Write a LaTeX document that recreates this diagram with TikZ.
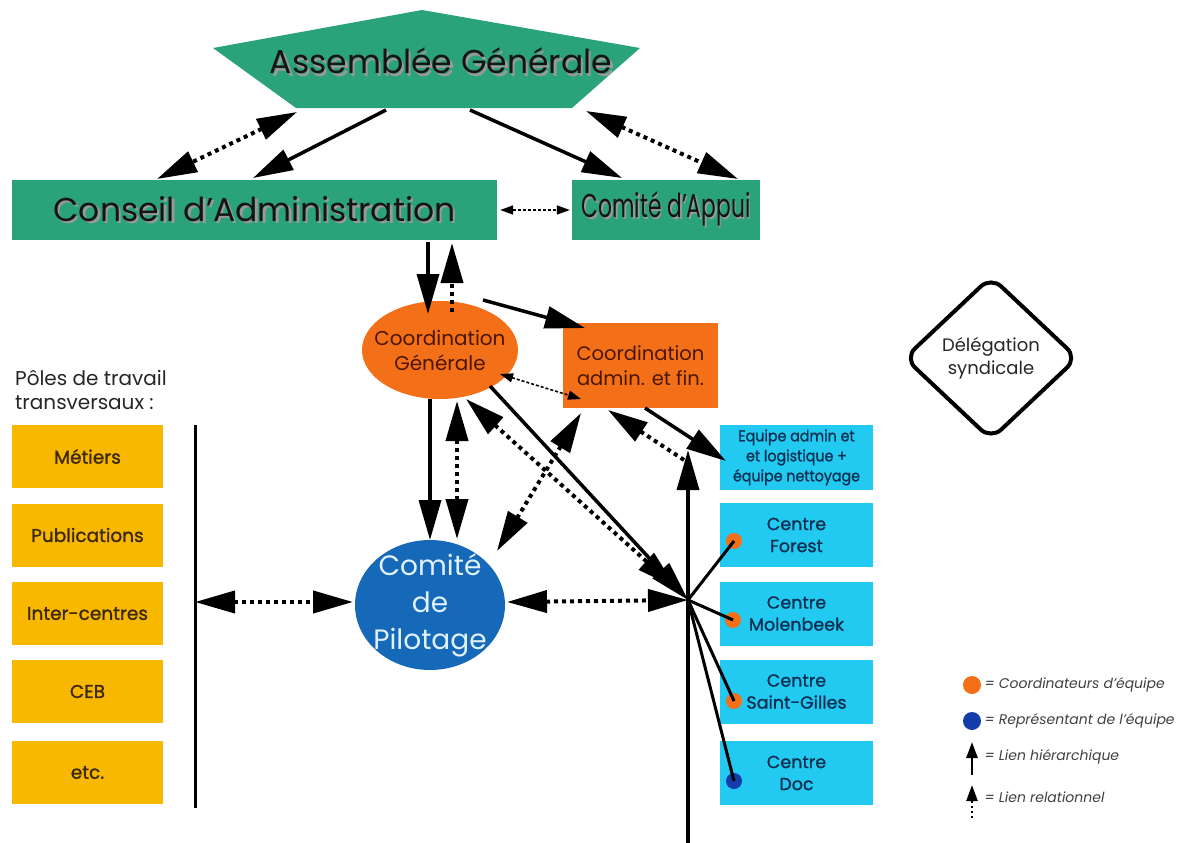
\documentclass[tikz,border=0pt]{standalone}
\usepackage{fontspec}
\setmainfont{Poppins}
\newfontfamily\semib{Poppins}[FakeBold=1.2]
\usetikzlibrary{arrows.meta,shapes.geometric,calc}
\definecolor{agreen}{RGB}{42,163,122}
\definecolor{orng}{RGB}{244,112,24}
\definecolor{cpblue}{RGB}{22,104,184}
\definecolor{cptext}{RGB}{225,242,255}
\definecolor{gold}{RGB}{248,184,0}
\definecolor{cyanbox}{RGB}{34,202,242}
\definecolor{navy}{RGB}{14,48,80}
\definecolor{brownt}{RGB}{60,40,10}
\definecolor{redt}{RGB}{75,22,0}
\definecolor{dotblue}{RGB}{20,60,170}
\newcommand{\shtx}[1]{\leavevmode\rlap{\kern2.5pt\raisebox{-2.5pt}{\color{black!40}#1}}{\color{black!92}#1}}
\tikzset{
  hier/.style={line width=3.5pt,-{Triangle[length=40pt,width=22pt]}},
  relboth/.style={line width=4pt,dash pattern=on 4pt off 4pt,
     {Triangle[length=40pt,width=22pt]}-{Triangle[length=40pt,width=22pt]}},
  relone/.style={line width=4pt,dash pattern=on 4pt off 4pt,-{Triangle[length=40pt,width=22pt]}},
  thinrel/.style={line width=1.6pt,dash pattern=on 3pt off 2pt,
     {Triangle[length=13pt,width=9pt]}-{Triangle[length=13pt,width=9pt]}},
  gbox/.style={rectangle,fill=agreen,inner sep=0pt,font=\fontsize{33}{38}\selectfont},
  pole/.style={rectangle,fill=gold,minimum width=151pt,minimum height=63pt,inner sep=0pt,
     text=brownt,font=\fontsize{18.5}{22}\semib},
  team/.style={rectangle,fill=cyanbox,minimum width=153pt,minimum height=64pt,inner sep=0pt,
     text=navy,align=center,font=\fontsize{17.5}{22}\semib},
  spoke/.style={line width=3pt},
  cdot/.style={circle,fill=orng,minimum size=16pt,inner sep=0pt},
  legtext/.style={anchor=west,text=black!75,font=\fontsize{14}{16}\selectfont\itshape},
}
\begin{document}
\begin{tikzpicture}[x=1pt,y=-1pt]
\useasboundingbox[fill=white] (0,0) rectangle (1186,843);

% Assemblee Generale
\fill[agreen] (213,48) -- (422,10) -- (640,48) -- (572,108) -- (296,108) -- cycle;
\node[font=\fontsize{33}{38}\selectfont] (ag) at (441,62) {\shtx{Assemblée Générale}};

% green boxes
\node[gbox,minimum width=485pt,minimum height=60pt] (ca) at (254.5,210) {\shtx{Conseil d'Administration}};
\node[gbox,minimum width=188pt,minimum height=60pt] (cap) at (666,210) {\scalebox{0.66}[1]{\shtx{Comité d'Appui}}};

% coordination
\node[ellipse,fill=orng,minimum width=156pt,minimum height=98pt,inner sep=0pt] (cg) at (440,350) {};
\node[align=center,text=redt,inner sep=0pt,font=\fontsize{20}{25}\selectfont] (cgtext) at (cg.center) {Coordination\\Générale};
\node[rectangle,fill=orng,minimum width=155pt,minimum height=85pt,inner sep=0pt,text=redt,
  align=center,font=\fontsize{19.5}{25}\selectfont] (caf) at (640.5,365.5) {Coordination\\admin. et fin.};

% comite de pilotage
\node[ellipse,fill=cpblue,minimum width=150pt,minimum height=130pt,inner sep=0pt] (cp) at (430,605) {};
\node[align=center,text=cptext,inner sep=0pt,font=\fontsize{28}{37}\selectfont] (cptext) at (cp.center) {Comité\\de\\Pilotage};

% delegation
\node[diamond,draw=black,line width=4pt,rounded corners=14pt,minimum width=174pt,minimum height=164pt,
  inner sep=0pt,align=center,text=black!85,font=\fontsize{18}{23}\selectfont] (del) at (991,358) {Délégation\\syndicale};

% poles
\node[anchor=north west,align=left,inner sep=0pt,text=black!85,font=\fontsize{20}{24}\selectfont]
  (poleshead) at (15,370) {Pôles de travail\\transversaux :};
\node[pole] (p1) at (87.5,456.5) {Métiers};
\node[pole] (p2) at (87.5,535) {Publications};
\node[pole] (p3) at (87.5,613.5) {Inter-centres};
\node[pole] (p4) at (87.5,691.5) {CEB};
\node[pole] (p5) at (87.5,772.5) {etc.};
\coordinate (plt) at (195,425);
\coordinate (plb) at (195,808);
\draw[line width=3pt] (plt) -- (plb);
\coordinate (plm) at (195,602);

% teams
\node[team,minimum height=65pt,font=\fontsize{15.5}{20}\semib] (eq) at (796.5,457.5) {\scalebox{0.92}[1]{Equipe admin et}\\\scalebox{0.92}[1]{et logistique +}\\\scalebox{0.92}[1]{équipe nettoyage}};
\node[team] (t1) at (796.5,535) {Centre\\Forest};
\node[team] (t2) at (796.5,613.5) {Centre\\Molenbeek};
\node[team] (t3) at (796.5,691.5) {Centre\\Saint-Gilles};
\node[team] (t4) at (796.5,773) {Centre\\Doc};

% junction and spokes
\coordinate (jn) at (688,600);
\coordinate (vtop) at (688,450);
\coordinate (vbot) at (688,843);
\node[cdot] (d1) at (734,541) {};
\node[cdot] (d2) at (733,620) {};
\node[cdot] (d3) at (734,701) {};
\node[cdot,fill=dotblue] (d4) at (734,781) {};
\draw[spoke] (jn) -- (d1.center);
\draw[spoke] (jn) -- (d2.center);
\draw[spoke] (jn) -- (d3.center);
\draw[spoke] (jn) -- (d4.center);
\draw[hier] (vbot) -- (vtop);

% AG connectors
\coordinate (agbl) at (297,112);
\coordinate (agl) at (386,110);
\coordinate (agr) at (470,110);
\coordinate (agbr) at (586,111);
\coordinate (cal) at (157,179);
\coordinate (cam) at (253,178);
\coordinate (capl) at (622,178);
\coordinate (capr) at (738,179);
\draw[relboth] (agbl) -- (cal);
\draw[hier] (agl) -- (cam);
\draw[hier] (agr) -- (capl);
\draw[relboth] (agbr) -- (capr);
\draw[thinrel] (ca.east) ++(3,0) coordinate (cae) -- ($(cap.west)+(-2,0)$) coordinate (capw);

% Conseil <-> CG
\coordinate (cab1) at (428,242);
\coordinate (cgt1) at (428,314);
\coordinate (cgt2) at (452,312);
\coordinate (cab2) at (452,243);
\draw[hier] (cab1) -- (cgt1);
\draw[relone] (cgt2) -- (cab2);

% CG <-> CAF
\coordinate (cg1) at (483,300);
\coordinate (caf1) at (585,328);
\draw[hier] (cg1) -- (caf1);
\coordinate (cg2) at (500,374);
\coordinate (caf2) at (581,399);
\draw[thinrel] (cg2) -- (caf2);

% CG -> CP
\coordinate (cg3) at (430,399);
\coordinate (cp1) at (430,540);
\draw[hier] (cg3) -- (cp1);
\coordinate (cg4) at (457,401);
\coordinate (cp2) at (457,539);
\draw[relboth] (cg4) -- (cp2);

% CAF <-> CP
\coordinate (caf3) at (581,413);
\coordinate (cp3) at (497,551);
\draw[relboth] (caf3) -- (cp3);

% CG -> junction
\coordinate (cg5) at (466,399);
\coordinate (jn2) at (676,588);
\draw[relboth] (cg5) -- (jn2);
\coordinate (cg6) at (490,386);
\draw[hier] (cg6) -- (jn);

% CAF -> equipe / vertical line
\coordinate (caf4) at (645,408);
\coordinate (eqw) at (726,461);
\draw[hier] (caf4) -- (eqw);
\coordinate (vt2) at (684,460);
\coordinate (caf5) at (608,410);
\draw[relone] (vt2) -- (caf5);

% CP horizontal
\coordinate (cpw) at (353,602);
\coordinate (cpe) at (507,602);
\draw[relboth] (plm) -- (cpw);
\draw[relboth] (cpe) -- (jn);

% legend
\node[cdot,minimum size=18pt] (lg1) at (972,685) {};
\node[legtext] (lt1) at (981,685) {= Coordinateurs d'équipe};
\node[cdot,minimum size=18pt,fill=dotblue] (lg2) at (972,721) {};
\node[legtext] (lt2) at (981,721) {= Représentant de l'équipe};
\coordinate (la1) at (972,775);
\coordinate (la2) at (972,742);
\draw[line width=2.5pt,-{Triangle[length=16pt,width=11pt]}] (la1) -- (la2);
\node[legtext] (lt3) at (981,757) {= Lien hiérarchique};
\coordinate (lb1) at (972,818);
\coordinate (lb2) at (972,785);
\draw[line width=2.5pt,dash pattern=on 2.5pt off 2.5pt,-{Triangle[length=16pt,width=11pt]}] (lb1) -- (lb2);
\node[legtext] (lt4) at (981,797) {= Lien relationnel};
\end{tikzpicture}
\end{document}
